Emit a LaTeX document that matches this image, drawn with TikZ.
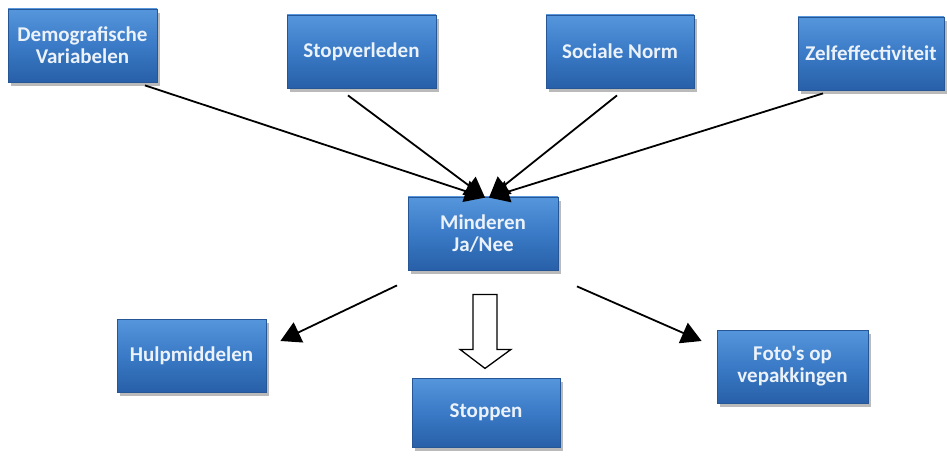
\documentclass[tikz,border=0pt]{standalone}
\usepackage{fontspec}
\setmainfont{Carlito}
\newfontfamily\boxfont{Carlito}
\usetikzlibrary{arrows.meta,shadows,calc}
\definecolor{boxtop}{RGB}{86,150,220}
\definecolor{boxmid}{RGB}{58,122,198}
\definecolor{boxbot}{RGB}{40,96,168}
\definecolor{boxline}{RGB}{38,86,150}
\definecolor{boxtext}{RGB}{236,242,250}
\tikzset{
  bluebox/.style={rectangle, inner sep=0pt, align=center,
    top color=boxtop, bottom color=boxbot, middle color=boxmid,
    draw=boxline, line width=0.8pt,
    drop shadow={shadow xshift=3pt, shadow yshift=-4pt, fill=black!45, opacity=0.6},
    text=boxtext, font=\boxfont\bfseries\fontsize{21}{22}\selectfont},
  conn/.style={line width=1.8pt, draw=black, -{Triangle[length=20pt,width=22pt]}},
  blockarrow/.style={draw=black, line width=1.3pt, fill=white}
}
\begin{document}
\begin{tikzpicture}[x=1pt,y=-1pt]
\useasboundingbox (0,0) rectangle (947,457);
% boxes
\node[bluebox, minimum width=149pt, minimum height=73pt] (demo) at (82.5,45.5) {Demografische\\Variabelen};
\node[bluebox, minimum width=149pt, minimum height=73pt] (stop) at (361.5,51.5) {Stopverleden};
\node[bluebox, minimum width=148pt, minimum height=73pt] (soc) at (620,51.5) {Sociale Norm};
\node[bluebox, minimum width=146pt, minimum height=73pt] (zelf) at (871,53.5) {Zelfeffectiviteit};
\node[bluebox, minimum width=150pt, minimum height=73pt] (mind) at (483,233.5) {Minderen\\Ja/Nee};
\node[bluebox, minimum width=148pt, minimum height=69pt] (stp) at (486,412.5) {Stoppen};
\node[bluebox, minimum width=149pt, minimum height=73pt] (hulp) at (191.5,355.5) {Hulpmiddelen};
\node[bluebox, minimum width=151pt, minimum height=73pt] (foto) at (792.5,366.5) {Foto's op\\vepakkingen};
% connectors into Minderen
\draw[conn] ([xshift=62.5pt,yshift=-3pt]demo.south) -- ([xshift=2pt,yshift=-1pt]mind.north);
\draw[conn] ([xshift=-13.5pt,yshift=-7pt]stop.south) -- ([xshift=2pt,yshift=-1pt]mind.north);
\draw[conn] ([xshift=-3pt,yshift=-7pt]soc.south) -- ([xshift=6pt,yshift=-1pt]mind.north);
\draw[conn] ([xshift=-48pt,yshift=-3pt]zelf.south) -- ([xshift=6pt,yshift=-1pt]mind.north);
% connectors out of Minderen
\draw[conn] ([xshift=-86pt,yshift=-15pt]mind.south) -- ([xshift=14pt,yshift=14.5pt]hulp.east);
\draw[conn] ([xshift=94pt,yshift=-16pt]mind.south) -- ([xshift=-15pt,yshift=25.5pt]foto.west);
% block arrow
\coordinate (ba) at ([yshift=-24pt]mind.south);
\draw[blockarrow] ($(ba)+(-10,0)$) -- ($(ba)+(14,0)$) -- ($(ba)+(14,55)$) -- ($(ba)+(28,55)$)
  -- ($(ba)+(2,74)$) -- ($(ba)+(-23,55)$) -- ($(ba)+(-10,55)$) -- cycle;
\end{tikzpicture}
\end{document}
